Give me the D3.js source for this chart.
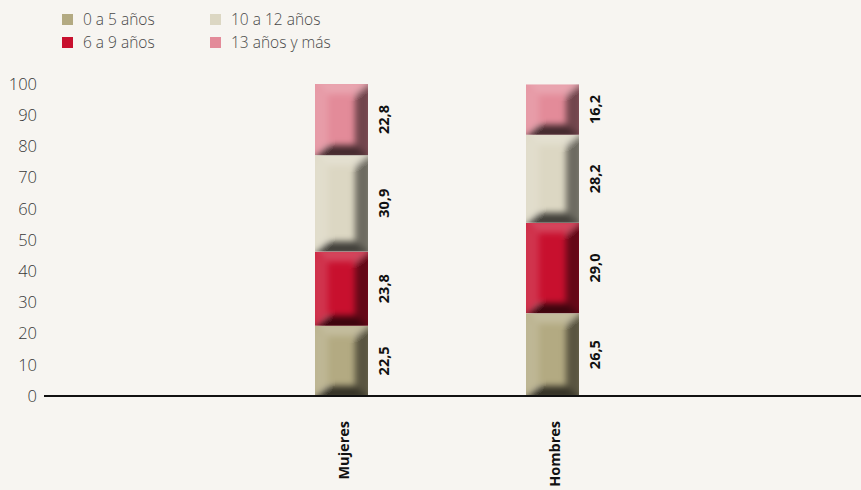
<!DOCTYPE html>
<html><head><meta charset="utf-8">
<script src="https://cdn.jsdelivr.net/npm/d3@7"></script>
<style>
body{margin:0;background:#f7f5f1;}
svg{display:block;font-family:"Open Sans","Noto Sans",sans-serif;}
</style></head>
<body><svg id="c" width="861" height="490"></svg>
<script>
const categories = ["Mujeres", "Hombres"];
const seriesNames = ["0 a 5 años", "6 a 9 años", "10 a 12 años", "13 años y más"];
const s0to5 = [22.5, 26.5];
const s6to9 = [23.8, 29.0];
const s10to12 = [30.9, 28.2];
const s13plus = [22.8, 16.2];
const yTicks = [0,10,20,30,40,50,60,70,80,90,100];
const colors = ["#b3aa82", "#c8102e", "#dcd7c3", "#e38b99"];

const svg = d3.select("#c");
svg.append("rect").attr("width",861).attr("height",490).attr("fill","#f7f5f1");
const defs = svg.append("defs");
defs.append("filter").attr("id","blur").attr("x","-20%").attr("y","-20%").attr("width","140%").attr("height","140%")
  .append("feGaussianBlur").attr("stdDeviation",3);

const y = d3.scaleLinear().domain([0,100]).range([396,84]);
const x = d3.scaleBand().domain(categories).range([236,658]).paddingInner(0.7488).paddingOuter(0.3744);

const series = [s0to5, s6to9, s10to12, s13plus];
const fmt = v => d3.format(".1f")(v).replace(".", ",");

// y axis labels
svg.append("g").selectAll("text").data(yTicks).join("text")
  .attr("x",37).attr("y",d=>y(d)).attr("dy","0.35em").attr("text-anchor","end")
  .attr("font-size",16.5).attr("fill","#383838").attr("font-weight",300).text(d=>d);

let clipId = 0;
categories.forEach((cat,ci)=>{
  let cum = 0;
  series.forEach((s,si)=>{
    const v = s[ci];
    const x0 = x(cat), w = x.bandwidth();
    const yTop = y(cum+v), yBot = y(cum);
    const h = yBot - yTop;
    cum += v;
    const id = "clip"+(clipId++);
    defs.append("clipPath").attr("id",id).append("rect").attr("x",x0).attr("y",yTop).attr("width",w).attr("height",h);
    const g = svg.append("g").attr("clip-path",`url(#${id})`);
    g.append("rect").attr("x",x0).attr("y",yTop).attr("width",w).attr("height",h).attr("fill",colors[si]);
    const b = 13, bb = 10;
    const ov = g.append("g").attr("filter","url(#blur)");
    ov.append("polygon").attr("points",[[x0-4,yTop-4],[x0+w+4,yTop-4],[x0+w-b,yTop+bb],[x0+b,yTop+bb]].join(" ")).attr("fill","#fff").attr("opacity",0.22);
    ov.append("polygon").attr("points",[[x0-4,yTop],[x0+b,yTop+bb],[x0+b,yBot-bb],[x0-4,yBot]].join(" ")).attr("fill","#fff").attr("opacity",0.15);
    ov.append("polygon").attr("points",[[x0+w+4,yTop-4],[x0+w+4,yBot+4],[x0+w-b,yBot-bb],[x0+w-b,yTop+bb]].join(" ")).attr("fill","#000").attr("opacity",0.5);
    ov.append("polygon").attr("points",[[x0-4,yBot+4],[x0+w+4,yBot+4],[x0+w-b,yBot-bb],[x0+b,yBot-bb]].join(" ")).attr("fill","#000").attr("opacity",0.7);
    // value label
    const lx = x0 + w + 16, ly = (yTop+yBot)/2;
    svg.append("text").attr("transform",`translate(${lx},${ly}) rotate(-90)`)
      .attr("text-anchor","middle").attr("dy","0.35em").attr("font-size",14.5).attr("font-weight",700)
      .attr("fill","#111").text(fmt(v));
  });
  svg.append("text").attr("transform",`translate(${x(cat)+x.bandwidth()/2+2},421) rotate(-90)`)
    .attr("text-anchor","end").attr("dy","0.35em").attr("font-size",14.5).attr("font-weight",700)
    .attr("fill","#111").text(cat);
});

// baseline
svg.append("line").attr("x1",44).attr("x2",861).attr("y1",y(0)).attr("y2",y(0)).attr("stroke","#111").attr("stroke-width",2);

// legend
const legPos = [[62,14],[62,37],[210,14],[210,37]];
seriesNames.forEach((n,i)=>{
  const [lx,ly] = legPos[i];
  svg.append("rect").attr("x",lx).attr("y",ly).attr("width",11).attr("height",11).attr("fill",colors[i]);
  svg.append("text").attr("x",lx+21).attr("y",ly+6).attr("dy","0.35em").attr("font-size",15.5)
    .attr("fill","#484848").attr("font-weight",300).text(n);
});
</script></body></html>
